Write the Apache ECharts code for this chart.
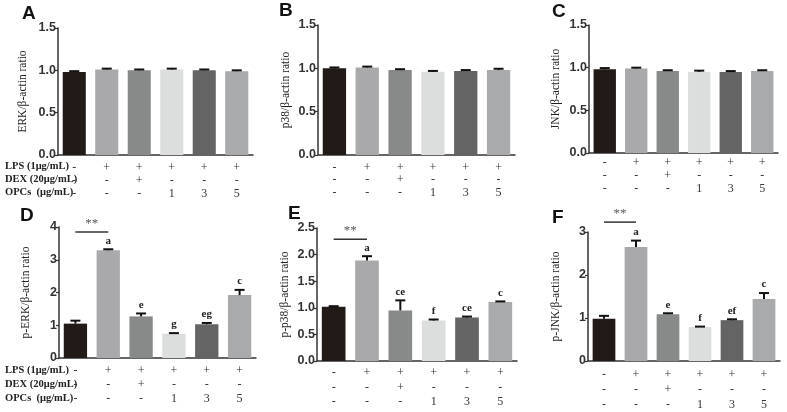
<!DOCTYPE html>
<html><head><meta charset="utf-8">
<script src="https://cdn.jsdelivr.net/npm/echarts@6/dist/echarts.min.js"></script>
<style>html,body{margin:0;padding:0;background:#fff}#c{width:787px;height:412px}</style>
</head><body><div id="c"></div>
<script>
// ---- data ----
const lpsRow  = ['-', '+', '+', '+', '+', '+'];
const dexRow  = ['-', '-', '+', '-', '-', '-'];
const opcsRow = ['-', '-', '-', '1', '3', '5'];
const rowTitles = ['LPS (1μg/mL)', 'DEX (20μg/mL)', 'OPCs  (μg/mL)'];
const barColors = ['#221a17', '#a9a9ab', '#888989', '#dcdddd', '#656464', '#a9aaac'];

const erkVals = [0.98, 1.01, 1.00, 1.01, 1.00, 0.99];
const erkErr  = [0.01, 0.01, 0.01, 0.01, 0.01, 0.01];
const p38Vals = [1.00, 1.01, 0.98, 0.96, 0.97, 0.98];
const p38Err  = [0.01, 0.01, 0.01, 0.01, 0.01, 0.015];
const jnkVals = [0.98, 0.99, 0.96, 0.95, 0.95, 0.96];
const jnkErr  = [0.015, 0.01, 0.01, 0.015, 0.01, 0.01];
const pErkVals = [1.05, 3.29, 1.27, 0.74, 1.03, 1.92];
const pErkErr  = [0.09, 0.03, 0.09, 0.02, 0.04, 0.16];
const pErkSig  = ['', 'a', 'e', 'g', 'eg', 'c'];
const pP38Vals = [1.02, 1.89, 0.95, 0.76, 0.82, 1.11];
const pP38Err  = [0.01, 0.08, 0.19, 0.02, 0.015, 0.01];
const pP38Sig  = ['', 'a', 'ce', 'f', 'ce', 'c'];
const pJnkVals = [0.98, 2.65, 1.09, 0.79, 0.95, 1.44];
const pJnkErr  = [0.07, 0.15, 0.02, 0.01, 0.02, 0.14];
const pJnkSig  = ['', 'a', 'e', 'f', 'ef', 'c'];
const emptySig = ['', '', '', '', '', ''];

const categories = lpsRow.map((v, i) => v + '\n' + dexRow[i] + '\n' + opcsRow[i]);

// ---- panels ----
const panels = [
  {letter:'A', lx:30, ly:14, grid:{left:58, top:28, width:195, height:127}, vals:erkVals, errs:erkErr, sig:emptySig, max:1.5, interval:0.5, dec:1, name:'ERK/β-actin ratio', gap:29, lh:13.3, margin:6, titles:true, tY:[168,181,194]},
  {letter:'B', lx:287, ly:11, grid:{left:318, top:25, width:197, height:130}, vals:p38Vals, errs:p38Err, sig:emptySig, max:1.5, interval:0.5, dec:1, name:'p38/β-actin ratio', gap:26, lh:12.8, margin:6},
  {letter:'C', lx:560, ly:12, grid:{left:589, top:25, width:189, height:128}, vals:jnkVals, errs:jnkErr, sig:emptySig, max:1.5, interval:0.5, dec:1, name:'JNK/β-actin ratio', gap:27, lh:13, margin:3},
  {letter:'D', lx:28, ly:216, grid:{left:59, top:227, width:197, height:131}, vals:pErkVals, errs:pErkErr, sig:pErkSig, max:4, interval:1, dec:0, name:'p-ERK/β-actin ratio', gap:27, lh:14, margin:6, titles:true, tY:[372,386,400], star:3.85},
  {letter:'E', lx:296, ly:214, grid:{left:317, top:228, width:200, height:133}, vals:pP38Vals, errs:pP38Err, sig:pP38Sig, max:2.5, interval:0.5, dec:1, name:'p-p38/β-actin ratio', gap:26, lh:14.5, margin:5, star:2.29},
  {letter:'F', lx:560, ly:218, grid:{left:588, top:232, width:192, height:131}, vals:pJnkVals, errs:pJnkErr, sig:pJnkSig, max:3, interval:1, dec:0, name:'p-JNK/β-actin ratio', gap:26, lh:15, margin:6, star:3.23}
];

const serif = '"Liberation Serif", "Times New Roman", serif';
const sans = '"Liberation Sans", Arial, sans-serif';

const option = {animation:false, backgroundColor:'#fff', grid:[], xAxis:[], yAxis:[], series:[], graphic:[]};

panels.forEach((p, i) => {
  option.grid.push(p.grid);
  option.xAxis.push({
    type:'category', gridIndex:i, data:categories,
    axisLine:{lineStyle:{color:'#333', width:1.5}},
    axisTick:{alignWithLabel:true, length:4, lineStyle:{color:'#333', width:1.2}},
    axisLabel:{fontFamily:serif, fontSize:12, color:'#333', lineHeight:p.lh, margin:p.margin, interval:0}
  });
  option.yAxis.push({
    type:'value', gridIndex:i, min:0, max:p.max, interval:p.interval,
    name:p.name, nameLocation:'middle', nameGap:p.gap,
    nameTextStyle:{fontFamily:serif, fontSize:11.5, color:'#222'},
    splitLine:{show:false},
    axisLine:{show:true, lineStyle:{color:'#333', width:1.5}},
    axisTick:{show:true, length:3, lineStyle:{color:'#333', width:1.2}},
    axisLabel:{fontFamily:sans, fontSize:12.5, fontWeight:'bold', color:'#333', margin:2,
      formatter:(v) => v.toFixed(p.dec)}
  });
  option.series.push({
    type:'bar', xAxisIndex:i, yAxisIndex:i, barCategoryGap:'29%',
    data:p.vals.map((v, k) => ({value:v, itemStyle:{color:barColors[k]}}))
  });
  option.series.push({
    type:'custom', xAxisIndex:i, yAxisIndex:i, clip:false, z:5,
    data:p.vals.map((v, k) => [k, v, p.errs[k], k]),
    renderItem:(params, api) => {
      const x = api.value(0), v = api.value(1), e = api.value(2), k = api.value(3);
      const p0 = api.coord([x, v]);
      const p1 = api.coord([x, v + e]);
      const hw = 5;
      const children = [
        {type:'line', shape:{x1:p0[0], y1:p0[1], x2:p1[0], y2:p1[1]}, style:{stroke:'#111', lineWidth:2}},
        {type:'line', shape:{x1:p1[0]-hw, y1:p1[1], x2:p1[0]+hw, y2:p1[1]}, style:{stroke:'#111', lineWidth:2}}
      ];
      const s = p.sig[k];
      if (s) children.push({type:'text', style:{text:s, x:p1[0], y:p1[1]-3, align:'center', verticalAlign:'bottom',
        font:'bold 11px ' + serif, fill:'#222'}});
      return {type:'group', children};
    }
  });
  if (p.star !== undefined) {
    option.series.push({
      type:'custom', xAxisIndex:i, yAxisIndex:i, clip:false, z:5,
      data:[[0, 1, p.star]],
      renderItem:(params, api) => {
        const a = api.coord([api.value(0), api.value(2)]);
        const b = api.coord([api.value(1), api.value(2)]);
        return {type:'group', children:[
          {type:'line', shape:{x1:a[0], y1:a[1], x2:b[0], y2:b[1]}, style:{stroke:'#333', lineWidth:1.5}},
          {type:'text', style:{text:'**', x:(a[0]+b[0])/2, y:a[1]-2, align:'center', verticalAlign:'bottom',
            font:'13px ' + serif, fill:'#555'}}
        ]};
      }
    });
  }
  option.graphic.push({type:'text', left:p.lx - 8, top:p.ly - 10,
    style:{text:p.letter, font:'bold 19px ' + sans, fill:'#111'}});
  if (p.titles) {
    rowTitles.forEach((t, r) => {
      option.graphic.push({type:'text', left:5, top:p.tY[r] - 7,
        style:{text:t, font:'bold 10.5px ' + serif, fill:'#222'}});
    });
  }
});

const chart = echarts.init(document.getElementById('c'), null, {renderer:'canvas'});
chart.setOption(option);
</script></body></html>
